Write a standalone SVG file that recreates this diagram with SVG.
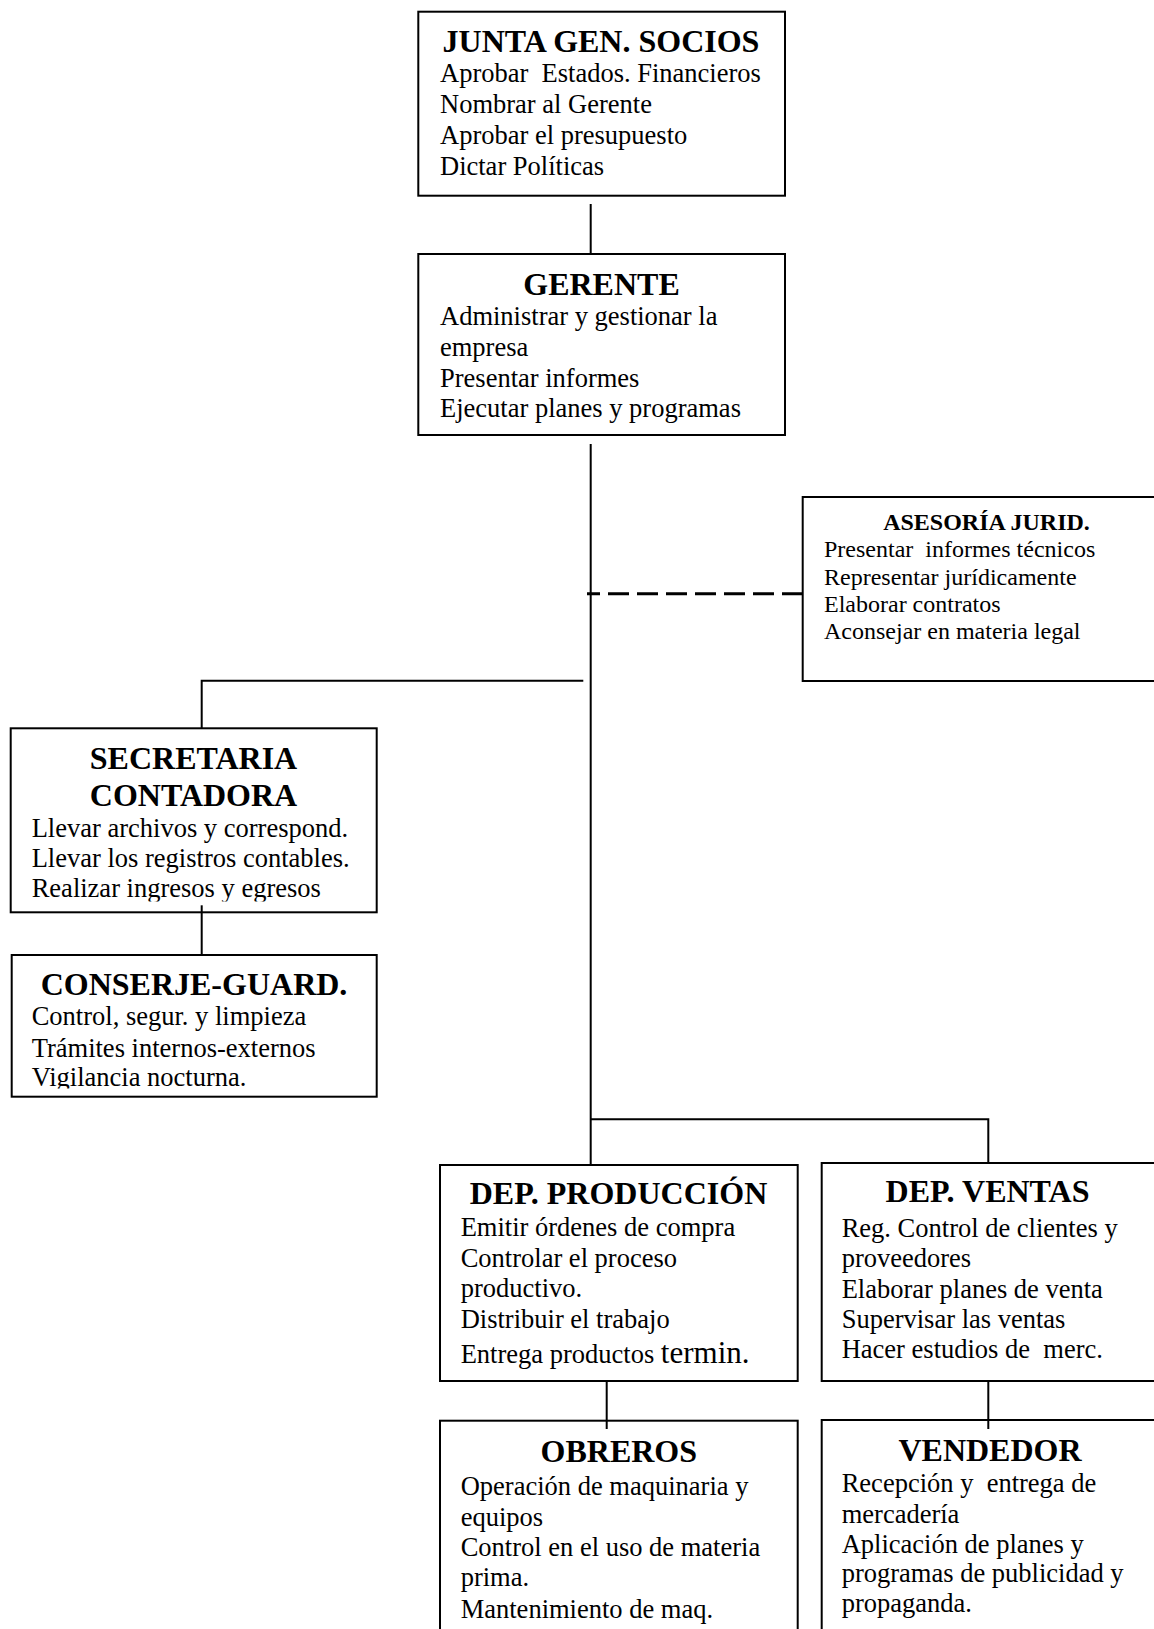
<svg xmlns="http://www.w3.org/2000/svg" width="1154" height="1629" viewBox="0 0 1154 1629">
<style>
.box{fill:#fff;stroke:#000;stroke-width:2}
.ln{stroke:#000;stroke-width:2;fill:none}
.dash{stroke:#000;stroke-width:3;stroke-dasharray:21 8;fill:none}
text{font-family:"Liberation Serif","Times New Roman",serif;fill:#000;white-space:pre}
.t{font-size:32px;font-weight:bold;text-anchor:middle}
.b{font-size:26.5px}
.ts{font-size:24px;font-weight:bold;text-anchor:middle}
.s{font-size:24px}
</style>
<defs>
<clipPath id="clipSec"><rect x="0" y="700" width="400" height="201.5"/></clipPath>
<clipPath id="clipCon"><rect x="0" y="940" width="400" height="148.5"/></clipPath>
</defs>
<rect width="1154" height="1629" fill="#fff"/>

<g id="junta">
<rect class="box" x="418.3" y="11.7" width="366.7" height="184"/>
<text class="t" x="601" y="52.3">JUNTA GEN. SOCIOS</text>
<text class="b" x="440" y="81.7">Aprobar  Estados. Financieros</text>
<text class="b" x="440" y="113">Nombrar al Gerente</text>
<text class="b" x="440" y="144">Aprobar el presupuesto</text>
<text class="b" x="440" y="175">Dictar Políticas</text>
</g>

<g id="gerente">
<rect class="box" x="418.3" y="254" width="366.7" height="181"/>
<text class="t" x="601.5" y="295">GERENTE</text>
<text class="b" x="440" y="325">Administrar y gestionar la</text>
<text class="b" x="440" y="355.5">empresa</text>
<text class="b" x="440" y="386.5">Presentar informes</text>
<text class="b" x="440" y="416.7">Ejecutar planes y programas</text>
</g>

<g id="asesoria">
<rect class="box" x="802.7" y="497" width="380" height="184"/>
<text class="ts" x="986.5" y="530">ASESORÍA JURID.</text>
<text class="s" x="824" y="557">Presentar  informes técnicos</text>
<text class="s" x="824" y="584.5">Representar jurídicamente</text>
<text class="s" x="824" y="612">Elaborar contratos</text>
<text class="s" x="824" y="639">Aconsejar en materia legal</text>
</g>

<g id="secretaria">
<rect class="box" x="10.7" y="728.3" width="366" height="184"/>
<text class="t" x="193.5" y="769.3">SECRETARIA</text>
<text class="t" x="193.5" y="806">CONTADORA</text>
<text class="b" x="31.7" y="837.3">Llevar archivos y correspond.</text>
<text class="b" x="31.7" y="867.3">Llevar los registros contables.</text>
<text class="b" x="31.7" y="897.3" clip-path="url(#clipSec)">Realizar ingresos y egresos</text>
</g>

<g id="conserje">
<rect class="box" x="11.7" y="955" width="365" height="141.7"/>
<text class="t" x="194" y="995">CONSERJE-GUARD.</text>
<text class="b" x="31.7" y="1025">Control, segur. y limpieza</text>
<text class="b" x="31.7" y="1056.5">Trámites internos-externos</text>
<text class="b" x="31.7" y="1086" clip-path="url(#clipCon)">Vigilancia nocturna.</text>
</g>

<g id="produccion">
<rect class="box" x="440" y="1165" width="357.7" height="216"/>
<text class="t" x="618.5" y="1204">DEP. PRODUCCIÓN</text>
<text class="b" x="460.7" y="1236">Emitir órdenes de compra</text>
<text class="b" x="460.7" y="1266.7">Controlar el proceso</text>
<text class="b" x="460.7" y="1297">productivo.</text>
<text class="b" x="460.7" y="1327.7">Distribuir el trabajo</text>
<text class="b" x="460.7" y="1363">Entrega productos <tspan style="font-size:31px">termin.</tspan></text>
</g>

<g id="ventas">
<rect class="box" x="821.7" y="1163" width="360" height="218"/>
<text class="t" x="987.5" y="1202">DEP. VENTAS</text>
<text class="b" x="841.7" y="1236.7">Reg. Control de clientes y</text>
<text class="b" x="841.7" y="1266.7">proveedores</text>
<text class="b" x="841.7" y="1298">Elaborar planes de venta</text>
<text class="b" x="841.7" y="1327.7">Supervisar las ventas</text>
<text class="b" x="841.7" y="1358">Hacer estudios de  merc.</text>
</g>

<g id="obreros">
<rect class="box" x="440" y="1420.7" width="357.7" height="230"/>
<text class="t" x="618.8" y="1461.7">OBREROS</text>
<text class="b" x="460.7" y="1494.5">Operación de maquinaria y</text>
<text class="b" x="460.7" y="1526">equipos</text>
<text class="b" x="460.7" y="1555.5">Control en el uso de materia</text>
<text class="b" x="460.7" y="1586.3">prima.</text>
<text class="b" x="460.7" y="1618">Mantenimiento de maq.</text>
</g>

<g id="vendedor">
<rect class="box" x="821.7" y="1420" width="360" height="230"/>
<text class="t" x="990" y="1460.7">VENDEDOR</text>
<text class="b" x="841.7" y="1491.5">Recepción y  entrega de</text>
<text class="b" x="841.7" y="1522.5">mercadería</text>
<text class="b" x="841.7" y="1552.5">Aplicación de planes y</text>
<text class="b" x="841.7" y="1581.5">programas de publicidad y</text>
<text class="b" x="841.7" y="1612">propaganda.</text>
</g>

<g id="connectors">
<path class="ln" d="M590.7 204 V254"/>
<path class="ln" d="M590.7 444 V1165"/>
<path class="dash" d="M803 593.7 H587"/>
<path class="ln" d="M583.3 680.7 H201.7 V728.3"/>
<path class="ln" d="M201.7 905.3 V955"/>
<path class="ln" d="M590.7 1119.3 H988.3 V1163"/>
<path class="ln" d="M606.7 1381 V1429"/>
<path class="ln" d="M988.3 1381 V1429"/>
</g>
</svg>
